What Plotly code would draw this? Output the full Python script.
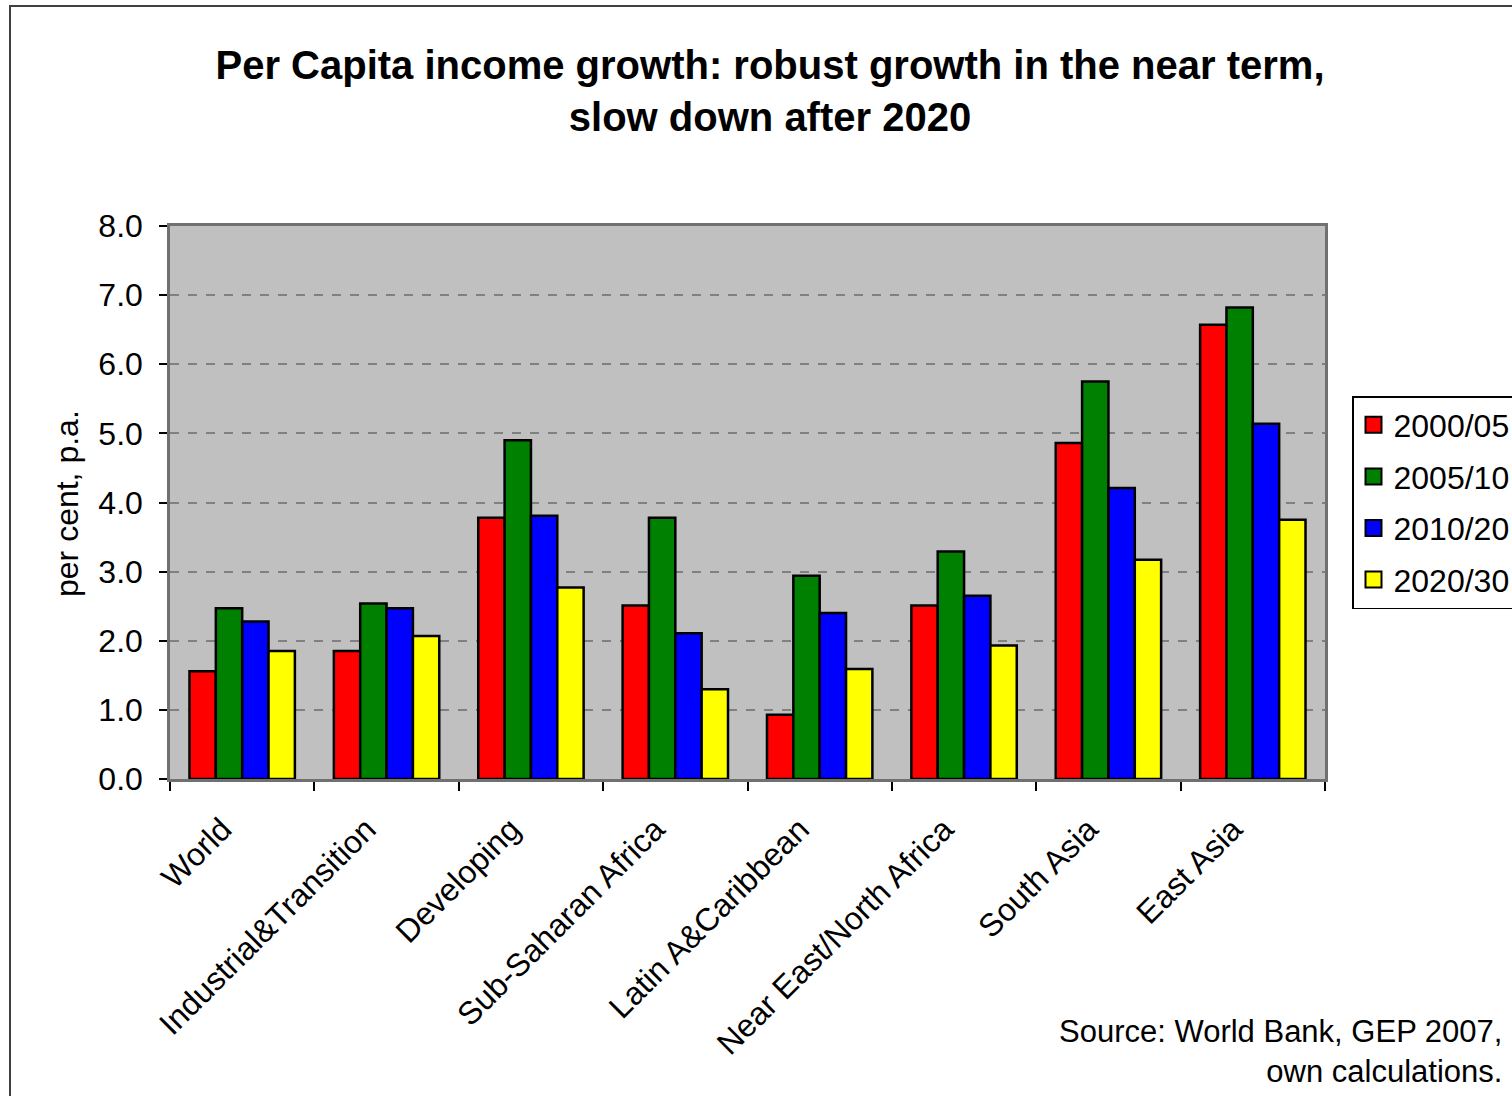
import plotly.graph_objects as go

categories = ["World", "Industrial&Transition", "Developing", "Sub-Saharan Africa",
              "Latin A&Caribbean", "Near East/North Africa", "South Asia", "East Asia"]
series_names = ["2000/05", "2005/10", "2010/20", "2020/30"]
v_2000_05 = [1.56, 1.85, 3.78, 2.51, 0.93, 2.51, 4.86, 6.57]
v_2005_10 = [2.47, 2.54, 4.90, 3.78, 2.94, 3.29, 5.75, 6.82]
v_2010_20 = [2.28, 2.47, 3.81, 2.11, 2.40, 2.65, 4.21, 5.14]
v_2020_30 = [1.85, 2.07, 2.77, 1.30, 1.59, 1.93, 3.17, 3.75]
series_values = [v_2000_05, v_2005_10, v_2010_20, v_2020_30]
colors = ["#FF0000", "#008000", "#0000FF", "#FFFF00"]

FONT = "Liberation Sans, Arial, sans-serif"
W, H = 1512, 1096
L, R, T, B = 170, 1325, 226, 779

def px_x(p):
    return (p - L) / (R - L)

def px_y(p):
    return (B - p) / (B - T)

fig = go.Figure()
for name, vals, c in zip(series_names, series_values, colors):
    fig.add_trace(go.Bar(
        x=categories, y=vals, name=name, legendgroup=name, showlegend=False,
        marker=dict(color=c, line=dict(color="black", width=2.5)),
    ))
# legend entries with larger square swatches
for name, c in zip(series_names, colors):
    fig.add_trace(go.Scatter(
        x=[None], y=[None], mode="markers", name=name, legendgroup=name,
        marker=dict(symbol="square", size=16, color=c, line=dict(color="black", width=2)),
    ))

fig.update_layout(
    width=W, height=H,
    margin=dict(l=L, r=W - R, t=T, b=H - B, autoexpand=False),
    paper_bgcolor="white", plot_bgcolor="#C0C0C0",
    barmode="group", bargap=0.27, bargroupgap=0,
    font=dict(family=FONT, size=32, color="black"),
    title=dict(
        text="<b>Per Capita income growth: robust growth in the near term,<br>slow down after 2020</b>",
        x=770 / W, xanchor="center", xref="container",
        y=1 - 79 / H, yanchor="middle", yref="container",
        font=dict(family=FONT, size=40, color="black"),
    ),
    legend=dict(
        x=px_x(1352), y=px_y(396), xanchor="left", yanchor="top",
        bgcolor="white", bordercolor="black", borderwidth=1.5,
        font=dict(family=FONT, size=32, color="black"),
        traceorder="grouped", tracegroupgap=7,
        itemsizing="trace", itemwidth=30,
    ),
    showlegend=True,
)

fig.update_yaxes(
    range=[0, 8], dtick=1, tickformat=".1f",
    showgrid=True, gridcolor="#808080", griddash="dash", gridwidth=1.5,
    showline=True, linecolor="#707070", linewidth=2.5, mirror=True,
    ticks="outside", ticklen=8, tickcolor="black", tickwidth=1.5,
    zeroline=False, ticklabelstandoff=10,
    tickfont=dict(family=FONT, size=32),
)
fig.update_xaxes(
    tickangle=-45, tickson="boundaries",
    showline=True, linecolor="#707070", linewidth=2.5, mirror=True,
    ticks="outside", ticklen=9, tickcolor="black", tickwidth=1.5,
    showgrid=False, ticklabelstandoff=16, ticklabelshift=-20,
    tickfont=dict(family=FONT, size=32),
)

fig.add_annotation(
    text="per cent, p.a.", textangle=-90,
    xref="paper", yref="paper", x=px_x(67), y=px_y(504),
    xanchor="center", yanchor="middle", showarrow=False,
    font=dict(family=FONT, size=32),
)
fig.add_annotation(
    text="Source: World Bank, GEP 2007,<br>own calculations.", align="right",
    xref="paper", yref="paper", x=px_x(1504), y=px_y(1051),
    xanchor="right", yanchor="middle", showarrow=False,
    font=dict(family=FONT, size=31),
)
fig.add_shape(
    type="rect", xref="paper", yref="paper",
    x0=px_x(10), y0=px_y(6), x1=px_x(1560), y1=px_y(1150),
    line=dict(color="#404040", width=2), fillcolor="rgba(0,0,0,0)", layer="below",
)

fig.write_html("out.html", config={"displayModeBar": False},
               post_script="document.body.style.margin='0';document.body.style.overflow='hidden';")
